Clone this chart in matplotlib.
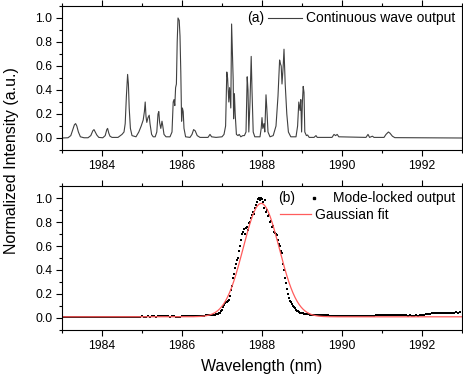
import numpy as np
import matplotlib
matplotlib.use("Agg")
import matplotlib.pyplot as plt
from matplotlib.lines import Line2D

plt.rcParams['font.family'] = ['Liberation Sans', 'DejaVu Sans']

# ---------------- Data ----------------
# (a) Continuous wave spectrum (traced)
cw_wl = [1983.00, 1983.15, 1983.22, 1983.27, 1983.31, 1983.34, 1983.37, 1983.41, 1983.46, 1983.55,
         1983.65, 1983.72, 1983.77, 1983.80, 1983.83, 1983.87, 1983.92, 1984.02, 1984.08, 1984.12,
         1984.14, 1984.17, 1984.20, 1984.25, 1984.40, 1984.50, 1984.55, 1984.58, 1984.61, 1984.64,
         1984.66, 1984.68, 1984.71, 1984.75, 1984.85, 1984.92, 1984.98, 1985.03, 1985.06, 1985.08,
         1985.10, 1985.12, 1985.15, 1985.18, 1985.20, 1985.24, 1985.28, 1985.33, 1985.37, 1985.40,
         1985.42, 1985.44, 1985.47, 1985.50, 1985.52, 1985.55, 1985.60, 1985.70, 1985.75, 1985.78,
         1985.80, 1985.82, 1985.84, 1985.86, 1985.88, 1985.90, 1985.93, 1985.95, 1985.97, 1985.99,
         1986.01, 1986.03, 1986.05, 1986.09, 1986.20, 1986.25, 1986.29, 1986.33, 1986.38, 1986.45,
         1986.65, 1986.70, 1986.74, 1986.85, 1987.00, 1987.05, 1987.09, 1987.12, 1987.14, 1987.17,
         1987.19, 1987.22, 1987.24, 1987.26, 1987.28, 1987.29, 1987.31, 1987.33, 1987.36, 1987.40,
         1987.43, 1987.47, 1987.52, 1987.56, 1987.60, 1987.63, 1987.65, 1987.67, 1987.70, 1987.73,
         1987.75, 1987.78, 1987.82, 1987.95, 1987.98, 1988.00, 1988.02, 1988.05, 1988.07, 1988.10,
         1988.12, 1988.15, 1988.20, 1988.28, 1988.35, 1988.40, 1988.44, 1988.46, 1988.48, 1988.50,
         1988.53, 1988.55, 1988.58, 1988.62, 1988.66, 1988.72, 1988.85, 1988.89, 1988.92, 1988.95,
         1988.97, 1988.99, 1989.01, 1989.03, 1989.05, 1989.07, 1989.11, 1989.14, 1989.18, 1989.30,
         1989.35, 1989.38, 1989.75, 1989.80, 1989.84, 1989.88, 1989.92, 1990.60, 1990.65, 1990.69,
         1990.76, 1990.80, 1991.05, 1991.10, 1991.16, 1991.20, 1991.26, 1991.32, 1993.00]
cw_int = [0.000, 0.002, 0.020, 0.070, 0.110, 0.120, 0.100, 0.050, 0.010, 0.002,
          0.002, 0.020, 0.060, 0.070, 0.050, 0.025, 0.005, 0.002, 0.020, 0.070,
          0.080, 0.040, 0.015, 0.005, 0.005, 0.030, 0.050, 0.120, 0.350, 0.530,
          0.450, 0.250, 0.080, 0.020, 0.010, 0.050, 0.100, 0.150, 0.220, 0.300,
          0.180, 0.130, 0.170, 0.190, 0.120, 0.030, 0.010, 0.010, 0.050, 0.200,
          0.220, 0.130, 0.080, 0.140, 0.100, 0.030, 0.010, 0.010, 0.050, 0.300,
          0.320, 0.270, 0.420, 0.450, 0.800, 1.000, 0.980, 0.850, 0.550, 0.140,
          0.250, 0.220, 0.080, 0.010, 0.005, 0.030, 0.070, 0.060, 0.020, 0.005,
          0.005, 0.030, 0.010, 0.005, 0.010, 0.030, 0.100, 0.550, 0.500, 0.300,
          0.420, 0.250, 0.950, 0.700, 0.480, 0.160, 0.370, 0.200, 0.030, 0.020,
          0.030, 0.010, 0.020, 0.020, 0.050, 0.510, 0.400, 0.050, 0.300, 0.680,
          0.400, 0.050, 0.010, 0.010, 0.080, 0.170, 0.080, 0.120, 0.050, 0.360,
          0.250, 0.050, 0.010, 0.020, 0.100, 0.350, 0.650, 0.620, 0.600, 0.450,
          0.600, 0.740, 0.450, 0.200, 0.050, 0.010, 0.010, 0.100, 0.300, 0.230,
          0.320, 0.050, 0.300, 0.430, 0.380, 0.050, 0.020, 0.025, 0.005, 0.005,
          0.020, 0.005, 0.005, 0.030, 0.020, 0.030, 0.010, 0.005, 0.030, 0.005,
          0.015, 0.005, 0.005, 0.030, 0.050, 0.040, 0.015, 0.003, 0.000]

# (b) Mode-locked output (traced dots)
ml_left_start, ml_left_step = 1983.0, 0.05
ml_left = [0.010, 0.011, 0.009, 0.010, 0.012, 0.010, 0.009, 0.011, 0.010, 0.008,
           0.010, 0.011, 0.012, 0.010, 0.009, 0.010, 0.011, 0.009, 0.008, 0.010,
           0.011, 0.010, 0.009, 0.012, 0.010, 0.009, 0.008, 0.010, 0.011, 0.010,
           0.012, 0.011, 0.009, 0.010, 0.008, 0.009, 0.010, 0.011, 0.010, 0.012,
           0.013, 0.012, 0.011, 0.013, 0.012, 0.014, 0.013, 0.012, 0.013, 0.015,
           0.014, 0.013, 0.015, 0.014, 0.012, 0.013, 0.014, 0.012, 0.011, 0.012,
           0.013, 0.014, 0.013, 0.015, 0.016, 0.015, 0.017, 0.018, 0.017, 0.019,
           0.020, 0.019, 0.021, 0.022, 0.023, 0.024]
ml_peak_start, ml_peak_step = 1986.8, 0.025
ml_peak = [0.025, 0.028, 0.030, 0.032, 0.035, 0.040, 0.045, 0.055, 0.070, 0.090,
           0.110, 0.125, 0.130, 0.135, 0.140, 0.150, 0.185, 0.230, 0.270, 0.330,
           0.370, 0.420, 0.450, 0.480, 0.500, 0.560, 0.600, 0.650, 0.700, 0.720,
           0.740, 0.700, 0.750, 0.760, 0.730, 0.790, 0.800, 0.830, 0.860, 0.880,
           0.870, 0.920, 0.940, 0.970, 0.990, 1.000, 0.985, 1.000, 0.990, 0.970,
           0.920, 0.980, 0.880, 0.900, 0.850, 0.860, 0.800, 0.810, 0.760, 0.770,
           0.720, 0.710, 0.700, 0.690, 0.650, 0.620, 0.600, 0.560, 0.540, 0.450,
           0.400, 0.330, 0.290, 0.240, 0.200, 0.170, 0.145, 0.130, 0.120, 0.100,
           0.090, 0.080, 0.070, 0.060, 0.055, 0.050, 0.045, 0.042, 0.040, 0.038,
           0.036, 0.035, 0.033, 0.032, 0.030, 0.030]
ml_right_start, ml_right_step = 1989.2, 0.05
ml_right = [0.029, 0.028, 0.027, 0.026, 0.025, 0.024, 0.023, 0.022, 0.021, 0.021,
            0.020, 0.019, 0.020, 0.018, 0.019, 0.018, 0.017, 0.018, 0.019, 0.018,
            0.017, 0.018, 0.016, 0.017, 0.018, 0.017, 0.016, 0.018, 0.017, 0.016,
            0.018, 0.019, 0.020, 0.021, 0.022, 0.024, 0.025, 0.026, 0.027, 0.026,
            0.028, 0.027, 0.026, 0.025, 0.026, 0.024, 0.023, 0.022, 0.021, 0.020,
            0.021, 0.020, 0.019, 0.021, 0.020, 0.022, 0.024, 0.027, 0.030, 0.033,
            0.036, 0.038, 0.040, 0.041, 0.040, 0.042, 0.043, 0.041, 0.042, 0.044,
            0.043, 0.045, 0.044, 0.046, 0.045, 0.046]

# Gaussian fit parameters
g_center, g_sigma, g_amp, g_offset = 1987.98, 0.45, 0.945, 0.010

xlim = (1983, 1993)
ylim = (-0.1, 1.1)
xticks = [1984, 1986, 1988, 1990, 1992]
yticks = [0.0, 0.2, 0.4, 0.6, 0.8, 1.0]

# ---------------- Build series ----------------
ml_wl = np.concatenate([
    ml_left_start + ml_left_step * np.arange(len(ml_left)),
    ml_peak_start + ml_peak_step * np.arange(len(ml_peak)),
    ml_right_start + ml_right_step * np.arange(len(ml_right)),
])
ml_int = np.concatenate([ml_left, ml_peak, ml_right])
g_wl = np.linspace(xlim[0], xlim[1], 600)
g_int = g_offset + g_amp * np.exp(-0.5 * ((g_wl - g_center) / g_sigma) ** 2)

# ---------------- Figure ----------------
fig = plt.figure(figsize=(4.63, 3.77), dpi=100)
axA = fig.add_axes([62 / 463, 1 - 150 / 377, 400 / 463, 144 / 377])
axB = fig.add_axes([62 / 463, 1 - 330 / 377, 400 / 463, 144 / 377])


def style(ax):
    ax.set_xlim(*xlim)
    ax.set_ylim(*ylim)
    ax.set_xticks(xticks)
    ax.set_xticks(np.arange(1983, 1994, 1), minor=True)
    ax.set_yticks(yticks)
    ax.set_yticks(np.arange(-0.1, 1.11, 0.1), minor=True)
    ax.set_yticklabels([f"{v:.1f}" for v in yticks])
    ax.tick_params(which='both', direction='out', top=True, right=True,
                   labelsize=8.7, width=0.8, pad=3)
    ax.tick_params(which='major', length=4)
    ax.tick_params(which='minor', length=2.5)
    for s in ax.spines.values():
        s.set_linewidth(0.8)


style(axA)
style(axB)

axA.plot(cw_wl, cw_int, color='#404040', lw=0.8)
legA = axA.legend([Line2D([], [], color='#404040', lw=0.8)], ['Continuous wave output'],
                  loc='upper right', bbox_to_anchor=(1.005, 1.02), frameon=False,
                  fontsize=10, handlelength=2.4, handletextpad=0.35, borderaxespad=0.2)
axA.text(0.462, 0.915, '(a)', transform=axA.transAxes, fontsize=10, ha='left', va='center')

axB.plot(ml_wl, ml_int, linestyle='none', marker='s', markersize=1.8,
         color='black', markeredgewidth=0)
axB.plot(g_wl, g_int, color='#ff5c5c', lw=0.9)
axB.text(0.54, 0.915, '(b)', transform=axB.transAxes, fontsize=10, ha='left', va='center')
leg1 = axB.legend([Line2D([], [], linestyle='none', marker='s', markersize=2, color='black')],
                  ['Mode-locked output'], loc='upper right', bbox_to_anchor=(1.005, 1.02),
                  frameon=False, fontsize=10, handlelength=1.0, handletextpad=0.9,
                  borderaxespad=0.2)
axB.add_artist(leg1)
axB.legend([Line2D([], [], color='#ff5c5c', lw=0.9)], ['Gaussian fit'],
           loc='upper left', bbox_to_anchor=(0.525, 0.905), frameon=False,
           fontsize=10, handlelength=2.2, handletextpad=0.3, borderaxespad=0.2)

axB.set_xlabel('Wavelength (nm)', fontsize=11.5, labelpad=5)
fig.text(12 / 463, 1 - 161 / 377, 'Normalized Intensity (a.u.)', rotation=90,
         fontsize=11.5, ha='center', va='center')

fig.savefig('out.png', dpi=100)
